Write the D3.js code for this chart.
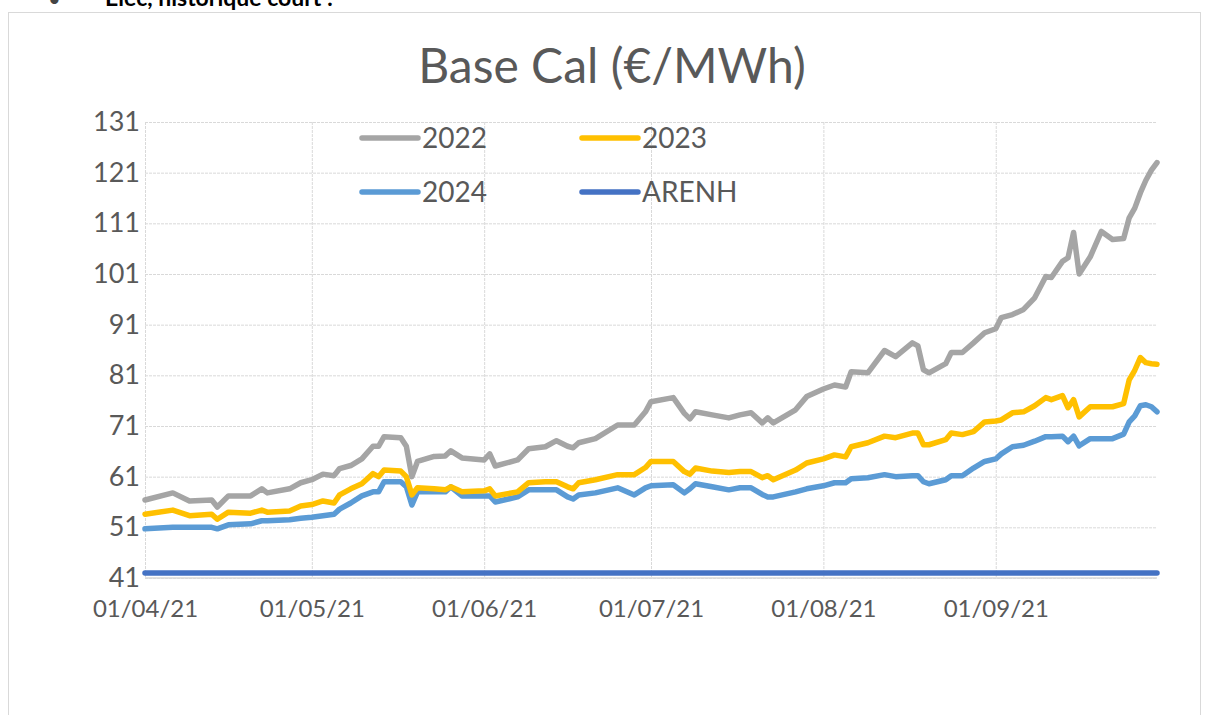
<!DOCTYPE html>
<html>
<head>
<meta charset="utf-8">
<script src="https://cdn.jsdelivr.net/npm/d3@7"></script>
<style>
  body { margin: 0; background: #fff; }
  svg { display: block; font-family: Lato, "Open Sans", sans-serif; }
</style>
</head>
<body>
<svg id="chart" width="1208" height="715"></svg>
<script>
// quotation dates (dd/mm/yy)
var dates = ["01/04/21","06/04/21","09/04/21","13/04/21","14/04/21","16/04/21","20/04/21","22/04/21","23/04/21","27/04/21","29/04/21",
  "01/05/21","03/05/21","05/05/21","06/05/21","08/05/21","10/05/21","12/05/21","13/05/21","14/05/21","17/05/21","18/05/21","19/05/21","20/05/21","23/05/21","25/05/21","26/05/21","28/05/21",
  "01/06/21","02/06/21","03/06/21","07/06/21","09/06/21","12/06/21","14/06/21","16/06/21","17/06/21","18/06/21","21/06/21","25/06/21","28/06/21","30/06/21",
  "01/07/21","05/07/21","07/07/21","08/07/21","09/07/21","12/07/21","15/07/21","17/07/21","19/07/21","21/07/21","22/07/21","23/07/21","27/07/21","29/07/21",
  "01/08/21","03/08/21","05/08/21","06/08/21","09/08/21","12/08/21","14/08/21","17/08/21","18/08/21","19/08/21","20/08/21","23/08/21","24/08/21","26/08/21","28/08/21","30/08/21",
  "01/09/21","02/09/21","04/09/21","06/09/21","08/09/21","10/09/21","11/09/21","13/09/21","14/09/21","15/09/21","16/09/21","18/09/21","20/09/21","22/09/21","24/09/21","25/09/21","26/09/21","27/09/21","28/09/21","29/09/21","30/09/21"]

var cal2022 = [56.4,57.8,56.2,56.4,55.0,57.2,57.2,58.6,57.8,58.6,59.8,
  60.4,61.5,61.2,62.6,63.2,64.5,67.0,67.0,68.9,68.7,67.0,61.0,64.0,65.0,65.1,66.1,64.7,
  64.3,65.5,63.1,64.3,66.5,66.9,68.1,67.0,66.7,67.7,68.5,71.2,71.2,73.8,
  75.8,76.6,73.5,72.4,73.8,73.2,72.6,73.2,73.6,71.6,72.6,71.6,74.2,76.8,
  78.3,79.1,78.7,81.7,81.5,85.9,84.7,87.4,86.8,82.1,81.5,83.3,85.5,85.5,87.4,89.4,
  90.2,92.4,93.0,94.0,96.3,100.5,100.3,103.5,104.2,109.2,101.0,104.4,109.4,107.8,108.0,112.1,114.0,117.0,119.5,121.5,123.0]

var cal2023 = [53.6,54.4,53.3,53.6,52.6,54.0,53.8,54.4,54.0,54.2,55.2,
  55.5,56.2,55.8,57.4,58.6,59.6,61.6,61.0,62.3,62.1,61.0,57.4,58.8,58.6,58.4,59.0,58.0,
  58.2,58.6,57.2,58.0,59.8,60.0,60.0,59.0,58.6,59.8,60.4,61.4,61.4,62.8,
  64.0,64.0,62.0,61.5,62.7,62.1,61.8,62.0,62.0,60.8,61.2,60.4,62.3,63.7,
  64.5,65.3,64.9,66.9,67.7,69.0,68.7,69.6,69.6,67.3,67.3,68.3,69.6,69.3,69.9,71.8,
  72.0,72.2,73.6,73.8,75.0,76.6,76.2,77.0,74.6,76.2,72.8,74.8,74.8,74.8,75.4,80.1,82.0,84.5,83.5,83.3,83.2]

var cal2024 = [50.7,51.0,51.0,51.0,50.7,51.5,51.7,52.3,52.3,52.5,52.8,
  53.0,53.3,53.6,54.6,55.8,57.2,58.0,58.0,60.0,60.0,59.0,55.4,58.0,58.0,58.0,59.0,57.2,
  57.2,57.2,56.0,57.0,58.4,58.4,58.4,57.0,56.6,57.4,57.8,58.8,57.4,58.8,
  59.2,59.4,57.8,58.6,59.6,59.0,58.4,58.8,58.8,57.5,57.0,57.0,58.0,58.6,
  59.2,59.8,59.8,60.6,60.8,61.4,61.0,61.2,61.2,60.0,59.6,60.4,61.2,61.2,62.7,64.0,
  64.5,65.5,66.9,67.2,68.0,68.9,68.9,69.0,67.9,69.0,67.1,68.5,68.5,68.5,69.4,71.8,73.0,75.0,75.2,74.8,73.8]

var arenh = 42

var seriesNames = ["2022", "2023", "2024", "ARENH"]
var seriesColors = ["#a5a5a5", "#ffc000", "#5b9bd5", "#4472c4"]
var yTicks = [41, 51, 61, 71, 81, 91, 101, 111, 121, 131]
var xTickLabels = ["01/04/21", "01/05/21", "01/06/21", "01/07/21", "01/08/21", "01/09/21"]

var parse = d3.timeParse("%d/%m/%y")
var fmt = d3.timeFormat("%d/%m/%y")
var days = dates.map(parse)

var svg = d3.select("#chart")

// bit of the document heading above the chart (cut by the screenshot)
svg.append("text").attr("x", 48).attr("y", 7).attr("font-size", 22).attr("fill", "#444").text("•")
svg.append("text").attr("x", 105).attr("y", 6)
    .attr("font-size", 23).attr("font-weight", "bold").attr("fill", "#000")
    .text("Elec, historique court :")

// chart frame
svg.append("rect").attr("x", 8.5).attr("y", 12.5).attr("width", 1192).attr("height", 740)
    .attr("fill", "none").attr("stroke", "#d9d9d9")

var margin = {top: 122, left: 145},
    width = 1157 - 145,
    height = 578 - 122

var g = svg.append("g").attr("transform", "translate(" + margin.left + "," + margin.top + ")")

var x = d3.scaleTime()
    .domain([parse("01/04/21"), parse("30/09/21")])
    .range([0, width])

var y = d3.scaleLinear()
    .domain([41, 131])
    .range([height, 0])

// horizontal grid
g.append("g")
    .call(d3.axisLeft(y).tickValues(yTicks).tickSize(-width).tickFormat(""))
    .call(a => a.select(".domain").remove())
    .selectAll("line").attr("stroke", "#d9d9d9").attr("stroke-dasharray", "3,1")

// vertical grid at month starts
g.append("g")
    .call(d3.axisBottom(x).tickValues(xTickLabels.map(parse)).tickSize(height).tickFormat(""))
    .call(a => a.select(".domain").remove())
    .selectAll("line").attr("stroke", "#d9d9d9").attr("stroke-dasharray", "3,1")

// bottom axis line
g.append("line").attr("x1", 0).attr("x2", width).attr("y1", height).attr("y2", height)
    .attr("stroke", "#d9d9d9").attr("stroke-width", 1.5)

// y labels
var yAxis = g.append("g")
    .call(d3.axisLeft(y).tickValues(yTicks).tickSize(0).tickPadding(5))
yAxis.select(".domain").remove()
yAxis.selectAll("text").attr("font-size", 27).attr("fill", "#595959")
    .attr("font-family", "Lato, sans-serif")

// x labels
var xAxis = g.append("g").attr("transform", "translate(0," + height + ")")
    .call(d3.axisBottom(x).tickValues(xTickLabels.map(parse)).tickSize(0).tickPadding(22).tickFormat(fmt))
xAxis.select(".domain").remove()
xAxis.selectAll("text").attr("font-size", 24).attr("fill", "#595959")
    .attr("font-family", "Lato, sans-serif")

// lines
var line = d3.line()
    .x(function(d, i) { return x(days[i]) })
    .y(function(d) { return y(d) })

var arenhSeries = dates.map(function() { return arenh })
var allSeries = [cal2022, cal2023, cal2024, arenhSeries]

// draw ARENH first, then the others on top
var order = [3, 2, 1, 0]
order.forEach(function(k) {
    g.append("path")
        .datum(allSeries[k])
        .attr("fill", "none")
        .attr("stroke", seriesColors[k])
        .attr("stroke-width", 5.5)
        .attr("stroke-linejoin", "round")
        .attr("stroke-linecap", "round")
        .attr("d", line)
})

// title
svg.append("text").attr("x", 612).attr("y", 83).attr("text-anchor", "middle")
    .attr("font-size", 48).attr("fill", "#595959").text("Base Cal (€/MWh)")

// legend
var legendPos = [[362, 138], [582, 138], [362, 192], [582, 192]]
seriesNames.forEach(function(name, i) {
    var p = legendPos[i]
    var lg = svg.append("g").attr("transform", "translate(" + p[0] + "," + p[1] + ")")
    lg.append("line").attr("x1", 0).attr("x2", 56).attr("y1", 0).attr("y2", 0)
        .attr("stroke", seriesColors[i]).attr("stroke-width", 5.5).attr("stroke-linecap", "round")
    lg.append("text").attr("x", 60).attr("y", 0).attr("dy", "0.35em")
        .attr("font-size", 28).attr("fill", "#595959").text(name)
})
</script>
</body>
</html>
